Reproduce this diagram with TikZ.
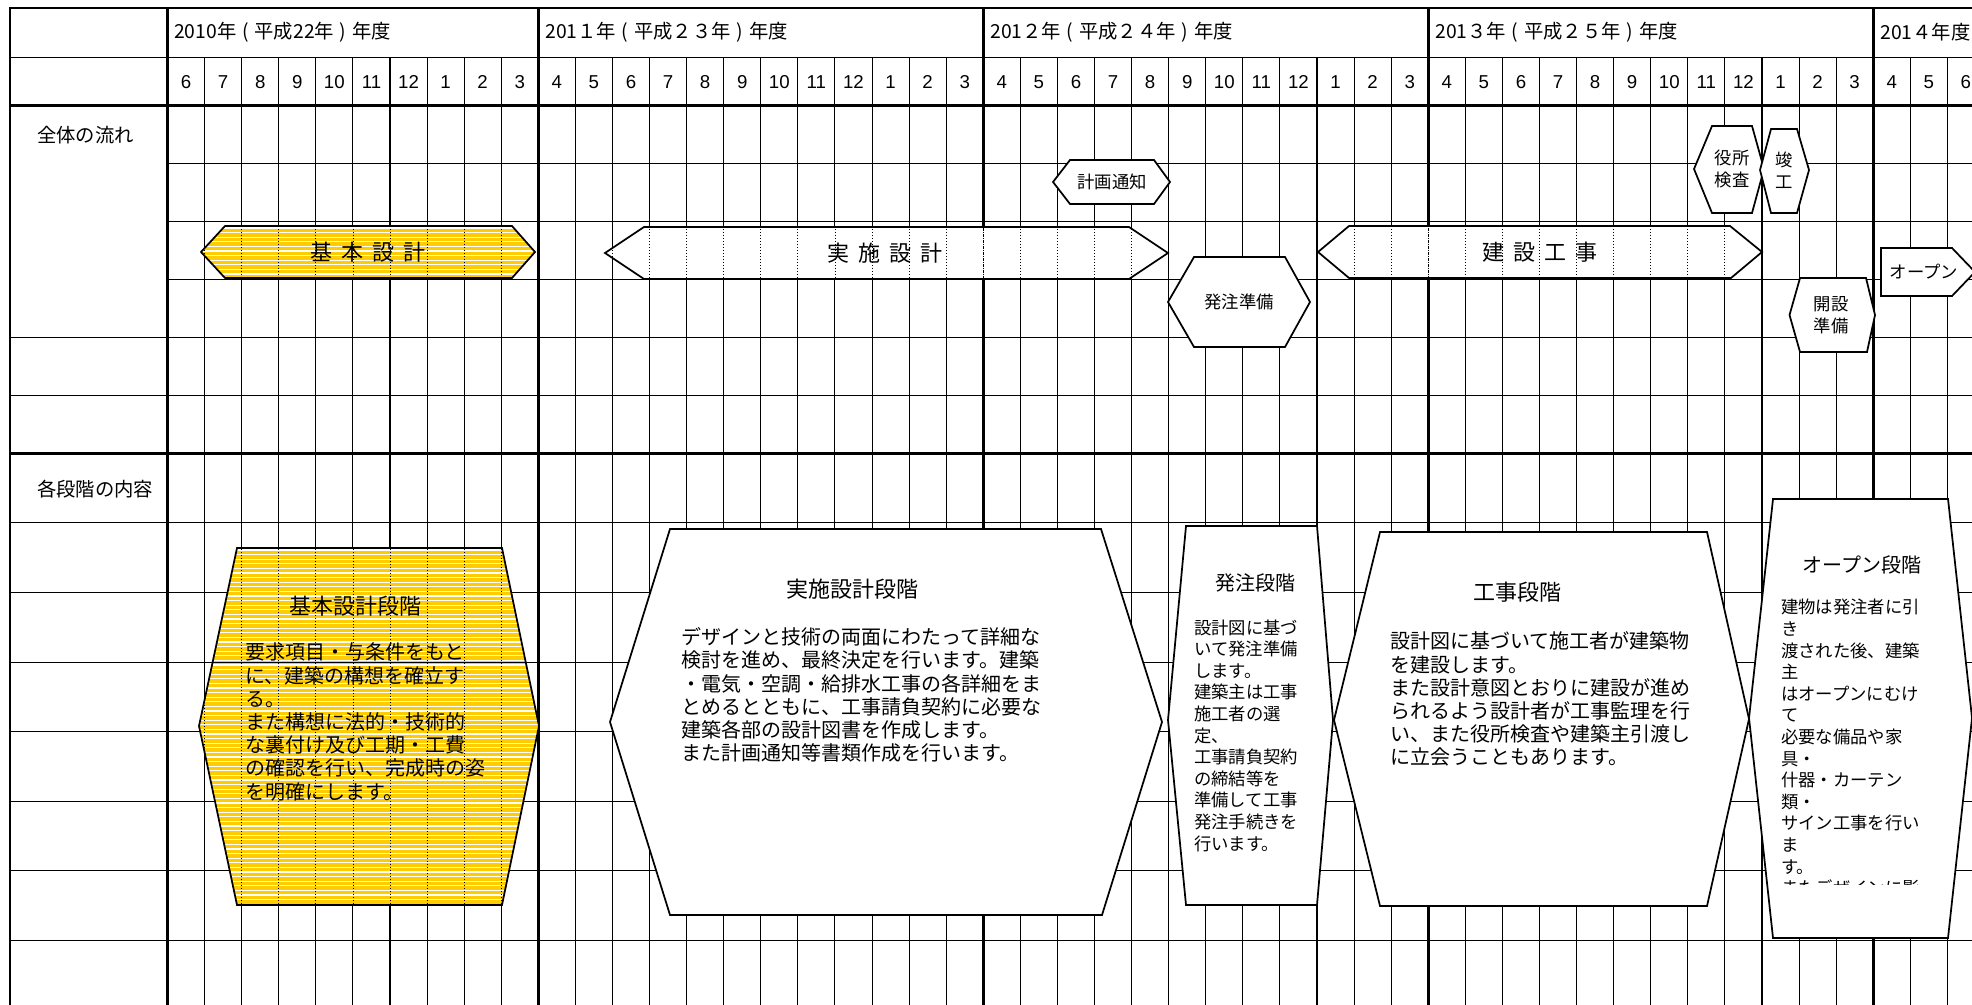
\documentclass[tikz,border=0pt]{standalone}
\usepackage{fontspec}
\setmainfont{Noto Sans CJK JP}
\newfontfamily\numfont{Liberation Sans}
\definecolor{kihonyellow}{HTML}{FFCC00}
\newcommand{\wsp}{\hspace{0.4em}}
\newcommand{\yg}{\hspace{0.3em}}

\begin{document}
\begin{tikzpicture}[
    x=0.75pt, y=-0.75pt,
    thinline/.style={line width=0.8pt},
    thickline/.style={line width=2.2pt},
    shapeline/.style={draw=black, line width=1.3pt, line join=miter},
    dotline/.style={line width=0.6pt, dash pattern=on 0.75pt off 1.5pt},
    yeardot/.style={line width=0.9pt, dash pattern=on 0.75pt off 0.75pt},
    stripe/.style={white, line width=0.9pt},
    yearlabel/.style={anchor=west, inner sep=0pt, font=\fontsize{14.5}{16}\selectfont},
    monthlabel/.style={inner sep=0pt, font=\numfont\fontsize{14}{16}\selectfont},
    rowlabel/.style={anchor=west, inner sep=0pt, font=\fontsize{14.5}{17}\selectfont},
    bandlabel/.style={inner sep=0pt, font=\fontsize{16.5}{19}\selectfont},
    flowtag/.style={inner sep=0pt, align=center, font=\fontsize{13}{16.2}\selectfont},
    stagetitle/.style={inner sep=0pt, font=\fontsize{16.5}{19}\selectfont},
    smalltitle/.style={inner sep=0pt, font=\fontsize{15}{18}\selectfont},
    stagebody/.style={anchor=north west, inner sep=0pt, align=left, font=\fontsize{15}{17.4}\selectfont},
    smallbody/.style={anchor=north west, inner sep=0pt, align=left, font=\fontsize{13}{16.2}\selectfont}
]

\useasboundingbox (0,0) rectangle (1972,1005);
\clip (0,0) rectangle (1972,1005);

% Grid - rows
\draw[thinline] (10,57.7) -- (1990,57.7);
\foreach \y in {163.3,221.3,279.3}
    \draw[thinline] (167.5,\y) -- (1990,\y);
\foreach \y in {337.3,395.3,522.9,592.5,662.1,731.7,801.3,870.9,940.5}
    \draw[thinline] (10,\y) -- (1990,\y);

% Grid - months
\foreach \k in {1,...,49}
    \draw[thinline] ({167.5+37.08*\k},57.7) -- ({167.5+37.08*\k},1010);

% Grid - heavy lines (border, header, years)
\draw[thickline] (10,1010) -- (10,8) -- (1990,8);
\draw[thickline] (167.5,8) -- (167.5,1010);
\draw[thickline] (10,105.3) -- (1990,105.3);
\draw[thickline] (10,453.3) -- (1990,453.3);
\foreach \k in {10,22,34,46}
    \draw[thickline] ({167.5+37.08*\k},8) -- ({167.5+37.08*\k},1010);

% Header texts
\node[yearlabel] (y2010) at (174,32) {2010年\yg{}(\yg{}平成22年\yg{})\yg{}年度};
\node[yearlabel] (y2011) at (545,32) {201１年\yg{}(\yg{}平成２３年\yg{})\yg{}年度};
\node[yearlabel] (y2012) at (990,32) {201２年\yg{}(\yg{}平成２４年\yg{})\yg{}年度};
\node[yearlabel] (y2013) at (1435,32) {201３年\yg{}(\yg{}平成２５年\yg{})\yg{}年度};
\node[yearlabel] (y2014) at (1880,32) {201４年度};

\foreach \k in {0,...,48} {
    \pgfmathtruncatemacro\mon{mod(\k+5,12)+1}
    \node[monthlabel] (mon\k) at ({167.5+37.08*\k+18.54},82) {\mon};
}

\node[rowlabel] (flow) at (37,135) {全体の流れ};
\node[rowlabel] (content) at (37,489) {各段階の内容};

% Band - 基本設計 (yellow, striped)
\begin{scope}
    \clip (201,252) -- (225,226) -- (512,226) -- (535,252) -- (512,278) -- (225,278) -- cycle;
    \fill[kihonyellow] (195,220) rectangle (540,285);
    \foreach \s in {0,...,12}
        \draw[stripe] (195,{228+4.6*\s}) -- (540,{228+4.6*\s});
    \foreach \k in {0,...,10}
        \draw[dotline] ({167.5+37.08*\k},220) -- ({167.5+37.08*\k},285);
\end{scope}
\draw[shapeline] (201,252) -- (225,226) -- (512,226) -- (535,252) -- (512,278) -- (225,278) -- cycle;
\node[bandlabel] (kihon) at (368,252) {基\wsp{}本\wsp{}設\wsp{}計};

% Band - 実施設計
\begin{scope}
    \clip (605,253) -- (644,227) -- (1129,227) -- (1168,253) -- (1129,279) -- (644,279) -- cycle;
    \fill[white] (600,220) rectangle (1175,285);
    \foreach \k in {11,...,27}
        \draw[dotline] ({167.5+37.08*\k},220) -- ({167.5+37.08*\k},285);
    \draw[yeardot] (983.3,220) -- (983.3,285);
\end{scope}
\draw[shapeline] (605,253) -- (644,227) -- (1129,227) -- (1168,253) -- (1129,279) -- (644,279) -- cycle;
\node[bandlabel] (jisshi) at (885,253) {実\wsp{}施\wsp{}設\wsp{}計};

% Band - 建設工事
\begin{scope}
    \clip (1318,252) -- (1349,226) -- (1730,226) -- (1762,252) -- (1731,278) -- (1349,278) -- cycle;
    \fill[white] (1310,220) rectangle (1770,285);
    \foreach \k in {31,...,43}
        \draw[dotline] ({167.5+37.08*\k},220) -- ({167.5+37.08*\k},285);
    \draw[yeardot] (1428.2,220) -- (1428.2,285);
\end{scope}
\draw[shapeline] (1318,252) -- (1349,226) -- (1730,226) -- (1762,252) -- (1731,278) -- (1349,278) -- cycle;
\node[bandlabel] (kensetsu) at (1540,252) {建\wsp{}設\wsp{}工\wsp{}事};

% Milestones
\draw[shapeline, fill=white] (1053,182) -- (1070,160) -- (1154,160) -- (1170,182) -- (1154,204) -- (1070,204) -- cycle;
\node[flowtag] (tsuchi) at (1112,182) {計画通知};

\draw[shapeline, fill=white] (1168,302) -- (1194,257) -- (1285,257) -- (1310,302) -- (1285,347) -- (1194,347) -- cycle;
\node[flowtag] (hatchu) at (1239,302) {発注準備};

\draw[shapeline, fill=white] (1694,169) -- (1712,126) -- (1752,126) -- (1764,169) -- (1752,213) -- (1712,213) -- cycle;
\node[flowtag] (kensa) at (1732,169) {役所\\検査};

\draw[shapeline, fill=white] (1760,170) -- (1771,129) -- (1797,129) -- (1809,170) -- (1797,213) -- (1771,213) -- cycle;
\node[flowtag] (shunko) at (1784,170) {竣\\工};

\draw[shapeline, fill=white] (1789.5,315) -- (1800,278) -- (1866,278) -- (1875,315) -- (1867,352) -- (1800,352) -- cycle;
\node[flowtag] (kaisetsu) at (1831,315) {開設\\準備};

\draw[shapeline, fill=white] (1881,248) -- (1952,248) -- (1975,272) -- (1952,296) -- (1881,296) -- cycle;
\node[flowtag] (open) at (1924,272) {オープン};

% Stage - 基本設計段階 (yellow, striped)
\begin{scope}
    \clip (199,726) -- (237,548) -- (502,548) -- (539,726) -- (502,905) -- (237,905) -- cycle;
    \fill[kihonyellow] (190,540) rectangle (545,910);
    \draw[thinline] (190,662.1) -- (545,662.1);
    \foreach \s in {0,...,77}
        \draw[stripe] (190,{550+4.6*\s}) -- (545,{550+4.6*\s});
    \foreach \k in {0,...,10}
        \draw[dotline] ({167.5+37.08*\k},540) -- ({167.5+37.08*\k},910);
\end{scope}
\draw[shapeline] (199,726) -- (237,548) -- (502,548) -- (539,726) -- (502,905) -- (237,905) -- cycle;
\node[stagetitle] (kihonT) at (355,606) {基本設計段階};
\node[stagebody] (kihonB) at (245,642.7) {要求項目・与条件をもと\\に、建築の構想を確立す\\る。\\また構想に法的・技術的\\な裏付け及び工期・工費\\の確認を行い、完成時の姿\\を明確にします。};

% Stage - 実施設計段階
\draw[shapeline, fill=white] (610,722) -- (670,529) -- (1101,529) -- (1162,722) -- (1102,915) -- (670,915) -- cycle;
\node[stagetitle] (jisshiT) at (852,589) {実施設計段階};
\node[stagebody] (jisshiB) at (681.5,627.3) {デザインと技術の両面にわたって詳細な\\検討を進め、最終決定を行います。建築\\・電気・空調・給排水工事の各詳細をま\\とめるとともに、工事請負契約に必要な\\建築各部の設計図書を作成します。\\また計画通知等書類作成を行います。};

% Stage - 発注段階
\draw[shapeline, fill=white] (1168,720) -- (1186,526) -- (1317,526) -- (1333,720) -- (1317,905) -- (1186,905) -- cycle;
\node[smalltitle] (hatchuT) at (1255,583) {発注段階};
\node[smallbody] (hatchuB) at (1194,619.3) {設計図に基づ\\いて発注準備\\します。\\建築主は工事\\施工者の選\\定、\\工事請負契約\\の締結等を\\準備して工事\\発注手続きを\\行います。};

% Stage - 工事段階
\draw[shapeline, fill=white] (1334,720) -- (1380,532) -- (1707,532) -- (1749,719) -- (1707,906) -- (1380,906) -- cycle;
\node[stagetitle] (kojiT) at (1517,592) {工事段階};
\node[stagebody] (kojiB) at (1390,631.7) {設計図に基づいて施工者が建築物\\を建設します。\\また設計意図とおりに建設が進め\\られるよう設計者が工事監理を行\\い、また役所検査や建築主引渡し\\に立会うこともあります。};

% Stage - オープン段階
\draw[shapeline, fill=white] (1749,718) -- (1773,499) -- (1948,499) -- (1972,718) -- (1948,938) -- (1773,938) -- cycle;
\node[smalltitle] (openT) at (1862,565) {オープン段階};
\begin{scope}
    \clip (1760,490) rectangle (1972,884);
    \node[smallbody] (openB) at (1781,599) {建物は発注者に引\\き\\渡された後、建築\\主\\はオープンにむけ\\て\\必要な備品や家\\具・\\什器・カーテン\\類・\\サイン工事を行い\\ま\\す。\\またデザインに影};
\end{scope}

\end{tikzpicture}
\end{document}
